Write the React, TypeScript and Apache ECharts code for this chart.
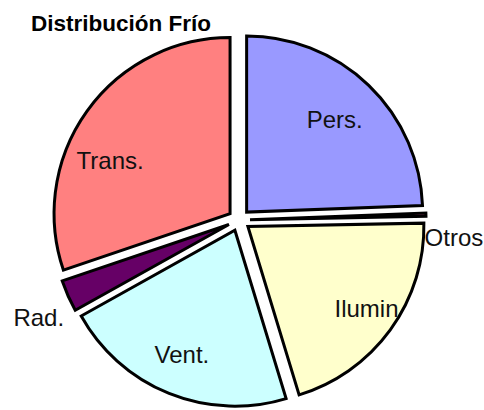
import React, { useEffect, useRef } from "react";
import * as echarts from "echarts";

const categories = ["Pers.", "Otros", "Ilumin", "Vent.", "Rad.", "Trans."];
const values = [24.4, 0.3, 20.6, 21.6, 2.9, 30.2];
const colors = ["#9999FF", "#993366", "#FFFFCC", "#CCFFFF", "#660066", "#FF8080"];
const titleText = "Distribución Frío";
// label shifts from the default inner position (layout, not data)
const labelDx = [25, 113, 45, -19, -107, -46];
const labelDy = [-27, 20, 29, 40, 56, 0];

function labelFor(i: number) {
  const dx = labelDx[i];
  const dy = labelDy[i];
  const h = Math.max(1, 2 * Math.abs(dy));
  return {
    padding: [0, dx < 0 ? -2 * dx : 0, 0, dx > 0 ? 2 * dx : 0],
    formatter: dy > 0 ? "{s| }\n{b}" : dy < 0 ? "{b}\n{s| }" : "{b}",
    rich: { s: { height: h, lineHeight: h, fontSize: 1 } },
  };
}

export default function App() {
  const ref = useRef<HTMLDivElement>(null);
  useEffect(() => {
    document.body.style.margin = "0";
    const chart = echarts.init(ref.current!, null, { renderer: "svg" });
    chart.setOption({
      animation: false,
      backgroundColor: "#ffffff",
      title: {
        text: titleText,
        left: 26,
        top: 7,
        textStyle: {
          fontFamily: "Liberation Sans, Arial, sans-serif",
          fontWeight: "bold",
          fontSize: 22.5,
          color: "#000",
        },
      },
      series: [
        {
          type: "pie",
          center: [239, 220],
          radius: 176,
          startAngle: 90,
          clockwise: true,
          avoidLabelOverlap: false,
          selectedMode: "multiple",
          selectedOffset: 11,
          emphasis: { disabled: true },
          itemStyle: { borderColor: "#000", borderWidth: 3, borderJoin: "miter" },
          labelLine: { show: false },
          labelLayout: { hideOverlap: false },
          label: {
            show: true,
            position: "inside",
            fontFamily: "Liberation Sans, Arial, sans-serif",
            fontSize: 24,
            lineHeight: 26,
            color: "#111",
          },
          data: categories.map((c, i) => ({
            name: c,
            value: values[i],
            selected: true,
            itemStyle: { color: colors[i] },
            label: labelFor(i),
          })),
        },
      ],
    });
    return () => chart.dispose();
  }, []);
  return <div ref={ref} style={{ width: 484, height: 410 }} />;
}
